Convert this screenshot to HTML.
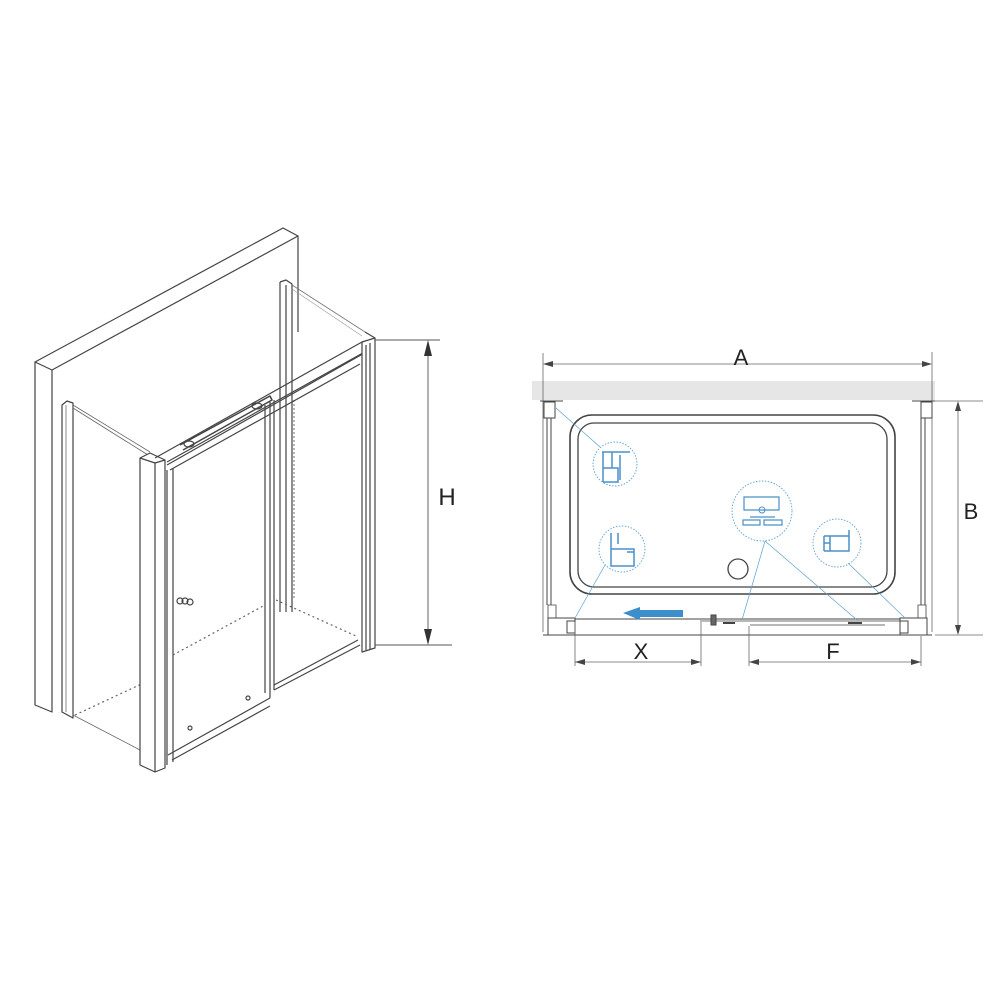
<!DOCTYPE html>
<html><head><style>body{margin:0;background:#fff}svg{display:block}</style></head><body>
<svg width="1000" height="1000" viewBox="0 0 1000 1000" xmlns="http://www.w3.org/2000/svg" font-family="Liberation Sans, sans-serif">
<g fill="none" stroke="#444" stroke-width="1.2" stroke-linejoin="round">
<!-- wall -->
<path d="M35,362 L283,228 L298,236 L52,370 Z" fill="#fff"/>
<path d="M35,362 L35,705 L52,712 L52,370"/>
<path d="M298,236 L298,332"/>
<!-- back right profile -->
<path d="M280,282 L280,612 M286,285 L286,612 M280,282 L286,280 L292,284 L292,612"/>
<path d="M294,400 L294,600" stroke-dasharray="2,2" stroke="#888"/>
<path d="M292,285 L365,332" stroke="#777" stroke-width="0.8"/>
<path d="M292,289 L362,336" stroke="#999" stroke-width="0.6"/>
<!-- left side panel -->
<path d="M62,405 L62,712 L73,718 L73,403 L67,401 Z"/>
<path d="M66,405 L66,712" stroke-width="0.6"/>
<path d="M73,405 L150,452 M73,408 L148,455" stroke="#666" stroke-width="0.8"/>
<path d="M73,715 L140,750" stroke="#666" stroke-width="0.8"/>
<path d="M75,715 L150,680" stroke-dasharray="2,3" stroke="#666"/>
<!-- front corner profile -->
<path d="M140,458 L150,453 L165,460 L165,768 L155,772 L140,765 Z" fill="#fff"/>
<path d="M155,463 L155,772 M140,458 L155,463 L165,460"/>
<!-- top rail -->
<path d="M155,458 L362,342 L375,347 L167,465"/>
<path d="M167,462 L370,349 M170,470 L360,364"/>
<path d="M180,445 L270,396 L272,400 L183,450" stroke-width="1.5"/>
<ellipse cx="189" cy="444" rx="5" ry="3"/><ellipse cx="257" cy="406" rx="5" ry="3"/>
<!-- right profile -->
<path d="M362,342 L375,338 L375,648 L362,652 Z" fill="#fff"/>
<path d="M366,345 L366,650 M370,343 L370,649"/>
<path d="M365,332 L375,338"/>
<!-- front left door -->
<path d="M167,470 L167,765 M173,468 L173,762"/>
<path d="M168,755 L270,698 M172,760 L270,706"/>
<!-- middle stile -->
<path d="M265,405 L265,693 M270,402 L270,698 M274,400 L274,690"/>
<!-- right door bottom -->
<path d="M274,690 L360,645 M274,685 L358,640"/>
<circle cx="180" cy="601" r="3"/><circle cx="185" cy="601" r="3"/><circle cx="190" cy="602" r="3"/>
<circle cx="190" cy="728" r="2"/><circle cx="248" cy="698" r="2"/>
<!-- floor dotted -->
<path d="M173,655 L265,605 M276,600 L356,636" stroke-dasharray="2,3" stroke="#666"/>
<!-- H dimension -->
<path d="M375,340 L440,340 M375,645 L452,645 M428,352 L428,633" stroke="#555" stroke-width="0.9"/>
<path d="M428,340 L424,356 L432,356 Z M428,645 L424,629 L432,629 Z" fill="#333" stroke="none"/>
</g>
<text x="447" y="505" font-size="24" text-anchor="middle" fill="#222">H</text>

<!-- right plan -->
<rect x="532" y="381" width="403" height="19" fill="#e6e6e6"/>
<g fill="none" stroke="#444" stroke-width="1">
<path d="M543,353 L543,632 M932,352 L932,632 M547,364 L928,364" stroke="#666" stroke-width="0.8"/>
<path d="M543,364 L553,361 L553,367 Z M932,364 L922,361 L922,367 Z" fill="#444" stroke="none"/>
<rect x="570" y="415" width="325" height="179" rx="22" stroke-width="1.6"/>
<rect x="578" y="423" width="309" height="164" rx="16" stroke-width="1.3"/>
<circle cx="738" cy="569" r="10" stroke-width="1.3"/>
<rect x="544" y="402" width="11" height="16"/><rect x="921" y="402" width="11" height="16"/>
<path d="M540,401 L563,401 M912,401 L935,401"/>
<path d="M547,418 L547,605 M551,418 L551,605 M921,418 L921,605 M925,418 L925,605"/>
<path d="M548,605 L556,605 L556,618 L548,618 Z M918,605 L926,605 L926,618 L918,618 Z" stroke-width="0.8"/>
<rect x="548" y="618" width="27" height="17"/><rect x="900" y="618" width="27" height="17"/>
<rect x="567" y="621" width="8" height="12"/><rect x="900" y="621" width="8" height="12"/>
<path d="M575,619 L900,619 M543,635 L932,635"/>
<path d="M700,621 L900,621 M750,625 L885,625" stroke-width="0.7"/>
<rect x="711" y="615" width="5" height="10" fill="#666"/>
<path d="M723,623 L735,623 M848,623 L862,623" stroke-width="2"/>
<!-- dims -->
<path d="M935,401 L983,401 M935,635 L983,635 M958,405 L958,631" stroke="#666" stroke-width="0.8"/>
<path d="M958,401 L955,411 L961,411 Z M958,635 L955,625 L961,625 Z" fill="#444" stroke="none"/>
<path d="M575,622 L575,666 M701,622 L701,666 M749,626 L749,666 M921,636 L921,666 M575,662 L701,662 M749,662 L921,662" stroke="#666" stroke-width="0.8"/>
<path d="M575,662 L585,659 L585,665 Z M701,662 L691,659 L691,665 Z M749,662 L759,659 L759,665 Z M921,662 L911,659 L911,665 Z" fill="#444" stroke="none"/>
</g>
<!-- blue callouts -->
<g fill="none" stroke="#5b9fd0" stroke-width="0.9">
<circle cx="615" cy="464" r="22" stroke-dasharray="1.5,1.5"/>
<circle cx="622" cy="549" r="23" stroke-dasharray="1.5,1.5"/>
<circle cx="762" cy="511" r="30" stroke-dasharray="1.5,1.5"/>
<circle cx="837" cy="543" r="24" stroke-dasharray="1.5,1.5"/>
<path d="M556,408 L600,447 M605,565 L575,618 M765,541 L742,620 M765,541 L857,620 M848,563 L905,618" stroke-width="0.7"/>
<path d="M602,452 L630,452 M603,452 L603,482 M612,452 L612,468 M603,468 L618,468 L618,482 L603,482 M620,455 L620,480" stroke="#4a90c8" stroke-width="1.5"/>
<path d="M611,544 L611,566 L634,566 L634,549 L611,549 M627,552 L634,552 M611,533 L611,544 M618,533 L618,544" stroke="#4a90c8" stroke-width="1.5"/>
<path d="M744,497 L779,497 L779,510 L744,510 Z M750,517 L775,517 M743,520 L760,520 L760,525 L743,525 Z M764,520 L782,520 L782,525 L764,525 Z" stroke="#4a90c8" stroke-width="1.2"/>
<circle cx="762" cy="510" r="3" stroke="#4a90c8"/>
<path d="M824,536 L849,536 M824,551 L849,551 L849,530 M824,536 L824,551 M830,536 L830,551 M824,543 L830,543" stroke="#4a90c8" stroke-width="1.5"/>
</g>
<path d="M623,613 L640,607 L640,610 L683,610 L683,617 L640,617 L640,620 Z" fill="#3d8fcc"/>
<text x="741" y="365" font-size="22" text-anchor="middle" fill="#222">A</text>
<text x="971" y="519" font-size="22" text-anchor="middle" fill="#222">B</text>
<text x="641" y="659" font-size="22" text-anchor="middle" fill="#222">X</text>
<text x="833" y="659" font-size="22" text-anchor="middle" fill="#222">F</text>
</svg>
</body></html>
